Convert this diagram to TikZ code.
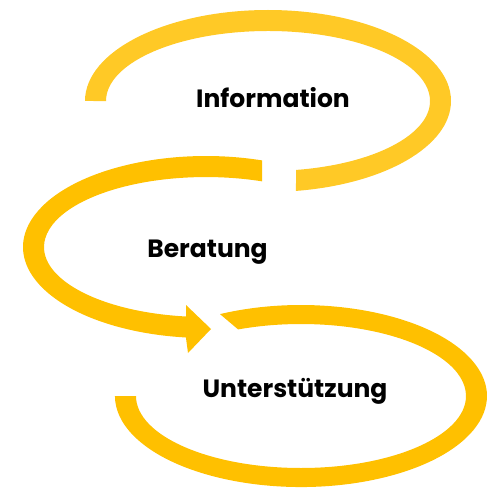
\documentclass[tikz,border=0pt]{standalone}
\usepackage{fontspec}
\setmainfont{Poppins}
\definecolor{ylight}{HTML}{FFC926}
\definecolor{ydark}{HTML}{FFC000}
\tikzset{
  band/.style={fill=#1, draw=none},
  txt/.style={font=\bfseries\fontsize{25}{29}\selectfont, text=black, anchor=base, inner sep=0pt}
}
\begin{document}
\begin{tikzpicture}[x=1pt,y=1pt]
\useasboundingbox (0,0) rectangle (495,488);
% top loop
\fill[band=ylight] (85,387) arc[start angle=180,end angle=-81.2,x radius=183pt,y radius=91pt]
  -- (296,318.05) arc[start angle=-80.05,end angle=180,x radius=162pt,y radius=70pt] -- cycle;
% middle loop with arrow head
\fill[band=ydark] (262,327.6) arc[start angle=72.18,end angle=263.7,x radius=183pt,y radius=91pt]
  -- (188,135) -- (211,159) -- (186,183) -- (186,171.5)
  arc[start angle=262.9,end angle=69.77,x radius=162pt,y radius=70pt] -- cycle;
% bottom loop
\fill[band=ydark] (220,173.9) arc[start angle=115.8,end angle=-180,x radius=186pt,y radius=91pt]
  -- (136,92) arc[start angle=-180,end angle=112.4,x radius=165pt,y radius=72pt] -- cycle;
% labels
\node[txt] (info) at (273,380) {Information};
\node[txt] (berat) at (207.5,231) {Beratung};
\node[txt] (unter) at (295,91) {Unterstützung};
\end{tikzpicture}
\end{document}
